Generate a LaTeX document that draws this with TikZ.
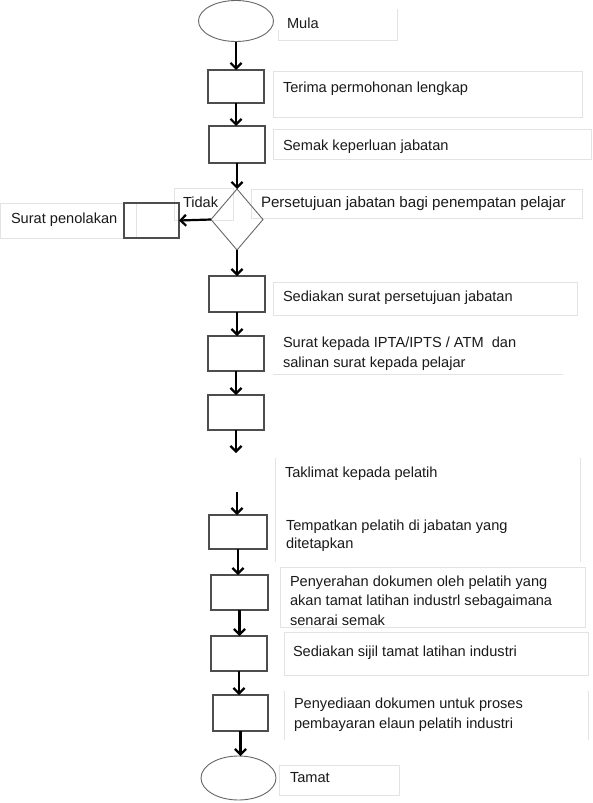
\documentclass[tikz,border=0pt]{standalone}
\usepackage{fontspec}
\setmainfont{Liberation Sans}
\usetikzlibrary{shapes.geometric,arrows.meta}
\definecolor{boxline}{HTML}{4D4D4D}
\definecolor{shapeline}{HTML}{666666}
\definecolor{frameline}{HTML}{E3E3E3}
\definecolor{txtcol}{HTML}{1A1A1A}
\tikzset{
  pbox/.style={draw=boxline, line width=1.2pt, rectangle, inner sep=0pt, outer sep=0pt},
  term/.style={draw=shapeline, line width=0.9pt, ellipse, inner sep=0pt, outer sep=0pt},
  decis/.style={draw=shapeline, line width=0.9pt, diamond, inner sep=0pt, outer sep=0pt},
  arr/.style={draw=black, line width=2.2pt, -{Straight Barb[length=5.5pt,width=11pt]}},
  tframe/.style={draw=frameline, line width=0.9pt},
  txt/.style={anchor=base west, inner sep=0pt, outer sep=0pt, align=left, text=txtcol,
              font=\fontsize{14.6}{19.5}\selectfont},
}
\begin{document}
\begin{tikzpicture}[x=1pt,y=-1pt]
\useasboundingbox[fill=white] (0,0) rectangle (592,803);

% light text frames
\draw[tframe] (397,9) -- (397,40) -- (278,40) -- (278,30);
\draw[tframe] (273,71) rectangle (582,117);
\draw[tframe] (273,129) rectangle (591,159);
\draw[tframe] (174,188) rectangle (233,220);
\draw[tframe] (251,189) rectangle (582,218);
\draw[tframe] (0.5,203) rectangle (136,238);
\draw[tframe] (273,282) rectangle (577,315);
\draw[tframe] (273,374) -- (563,374);
\draw[tframe] (275.5,458) -- (275.5,562);
\draw[tframe] (580,458) -- (580,562);
\draw[tframe] (280,567) rectangle (585,627);
\draw[tframe] (284,632) rectangle (588,675);
\draw[tframe] (284,691) -- (284,740);
\draw[tframe] (588,691) -- (588,740);
\draw[tframe] (279,765) rectangle (399,795);

% flowchart shapes
\node[term, minimum width=75pt, minimum height=41pt] (start) at (236,21) {};
\node[pbox, minimum width=56pt, minimum height=33pt] (b1) at (236,86.5) {};
\node[pbox, minimum width=56pt, minimum height=37pt] (b2) at (237,144.5) {};
\node[decis, minimum width=52pt, minimum height=61pt] (dia) at (237,219.5) {};
\node[pbox, minimum width=55pt, minimum height=35pt] (rej) at (151.5,220.5) {};
\node[pbox, minimum width=56pt, minimum height=36pt] (b3) at (237,294) {};
\node[pbox, minimum width=56pt, minimum height=35pt] (b4) at (236,353.5) {};
\node[pbox, minimum width=56pt, minimum height=35pt] (b5) at (236,412.5) {};
\node[pbox, minimum width=58pt, minimum height=34pt] (b6) at (238,532) {};
\node[pbox, minimum width=57pt, minimum height=35pt] (b7) at (239.5,592.5) {};
\node[pbox, minimum width=56pt, minimum height=35pt] (b8) at (239,653.5) {};
\node[pbox, minimum width=55pt, minimum height=36pt] (b9) at (240.5,713) {};
\node[term, minimum width=75pt, minimum height=44pt] (end) at (238.5,778) {};
\coordinate (g1) at (237,453);
\coordinate (g2) at (237,492);

% connectors
\draw[arr] (start.south) -- (start.south |- b1.north);
\draw[arr] (b1.south) -- (b1.south |- b2.north);
\draw[arr] (b2.south) -- (b2.south |- dia.north);
\draw[arr] (dia.west) -- (rej.east);
\draw[arr] (dia.south) -- (dia.south |- b3.north);
\draw[arr] (b3.south) -- (b3.south |- b4.north);
\draw[arr] (b4.south) -- (b4.south |- b5.north);
\draw[arr] (b5.south) -- (b5.south |- g1);
\draw[arr] (g2) -- (g2 |- b6.north);
\draw[arr] (b6.south) -- (b6.south |- b7.north);
\draw[arr] (b7.south) -- (b7.south |- b8.north);
\draw[arr] (b8.south) -- (b8.south |- b9.north);
\draw[arr] (b9.south) -- (b9.south |- end.north);

% texts (multi-line nodes: base = baseline of last line)
\node[txt] (t0) at (287,28) {Mula};
\node[txt] (t1) at (283,92) {Terima permohonan lengkap};
\node[txt] (t2) at (283,150) {Semak keperluan jabatan};
\node[txt] (tno) at (183,207) {Tidak};
\node[txt, font=\fontsize{15.1}{19.5}\selectfont] (t3) at (261,207) {Persetujuan jabatan bagi penempatan pelajar};
\node[txt] (trej) at (11,223) {Surat penolakan};
\node[txt] (t4) at (283,301) {Sediakan surat persetujuan jabatan};
\node[txt, font=\fontsize{14.6}{20}\selectfont] (t5) at (283,367) {Surat kepada IPTA/IPTS / ATM\ \ dan\\salinan surat kepada pelajar};
\node[txt] (t6) at (285,477) {Taklimat kepada pelatih};
\node[txt, font=\fontsize{14.6}{18}\selectfont] (t7) at (286,548) {Tempatkan pelatih di jabatan yang\\ditetapkan};
\node[txt] (t8) at (290,625) {Penyerahan dokumen oleh pelatih yang\\akan tamat latihan industrl\ sebagaimana\\senarai semak};
\node[txt] (t9) at (293,656) {Sediakan sijil tamat latihan industri};
\node[txt] (t10) at (294,728) {Penyediaan dokumen untuk proses\\pembayaran elaun pelatih industri};
\node[txt] (t11) at (290,782) {Tamat};
\end{tikzpicture}
\end{document}
